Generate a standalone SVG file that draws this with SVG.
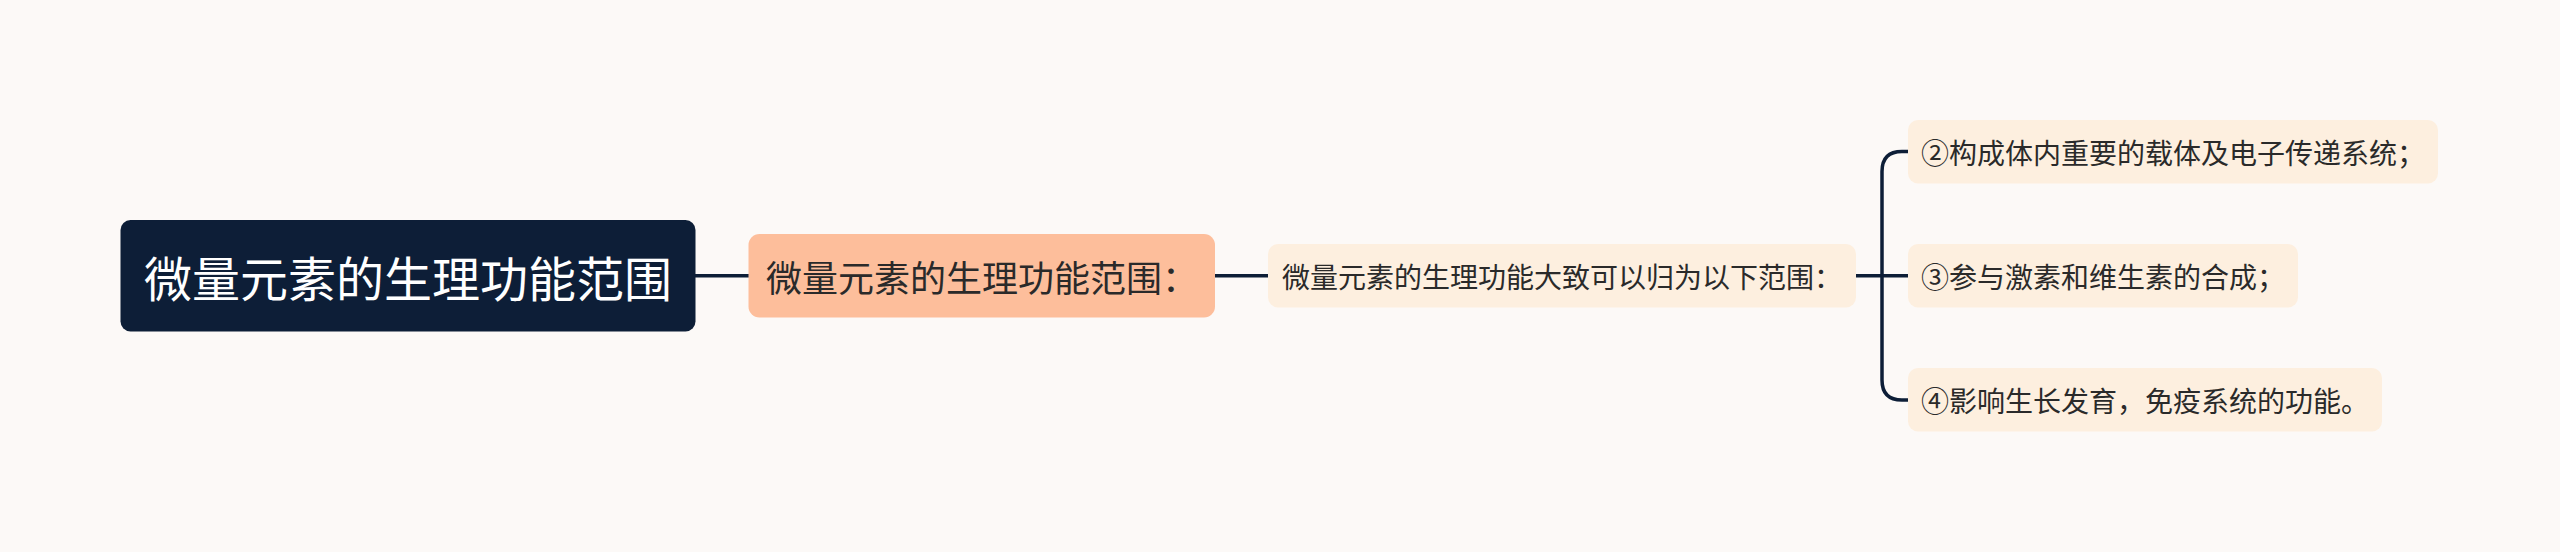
<svg xmlns="http://www.w3.org/2000/svg" width="2560" height="552" viewBox="0 0 2560 552">
<style>
.bg{fill:#FCF9F7}
.t{font-family:"Noto Sans CJK SC","Noto Sans",sans-serif;dominant-baseline:central}
.root rect{fill:#0D1E37}
.root text{fill:#FFFFFF;font-size:48px}
.l1 rect{fill:#FDBE9B}
.l1 text{fill:#2A2A2A;font-size:36px}
.l2 rect{fill:#FDEFDF}
.l2 text{fill:#2A2A2A;font-size:28px}
.conn path{fill:none;stroke:#0D1E37;stroke-width:3.5}
</style>
<rect class="bg" x="0" y="0" width="2560" height="552"/>
<g class="conn" id="connectors">
<path d="M695,275.75 H749"/>
<path d="M1215,275.75 H1268"/>
<path d="M1856,275.75 H1908"/>
<path d="M1882,275.75 V171.5 Q1882,151.5 1902,151.5 H1908"/>
<path d="M1882,275.75 V380 Q1882,400 1902,400 H1908"/>
</g>
<g class="root" id="node-root">
<rect x="120.5" y="220" width="575" height="111.5" rx="10"/>
<text class="t" x="144" y="275.75">微量元素的生理功能范围</text>
</g>
<g class="l1" id="node-1">
<rect x="748.5" y="234" width="466.5" height="83.5" rx="11"/>
<text class="t" x="766" y="275.75">微量元素的生理功能范围：</text>
</g>
<g class="l2" id="node-2">
<rect x="1268" y="244" width="588" height="63.5" rx="10"/>
<text class="t" x="1282" y="275.75">微量元素的生理功能大致可以归为以下范围：</text>
</g>
<g class="l2" id="node-leaf-1">
<rect x="1908" y="120" width="530" height="63.5" rx="10"/>
<text class="t" x="1921" y="151.75">②构成体内重要的载体及电子传递系统；</text>
</g>
<g class="l2" id="node-leaf-2">
<rect x="1908" y="244" width="390" height="63.5" rx="10"/>
<text class="t" x="1921" y="275.75">③参与激素和维生素的合成；</text>
</g>
<g class="l2" id="node-leaf-3">
<rect x="1908" y="368" width="474" height="63.5" rx="10"/>
<text class="t" x="1921" y="399.75">④影响生长发育，免疫系统的功能。</text>
</g>
</svg>
